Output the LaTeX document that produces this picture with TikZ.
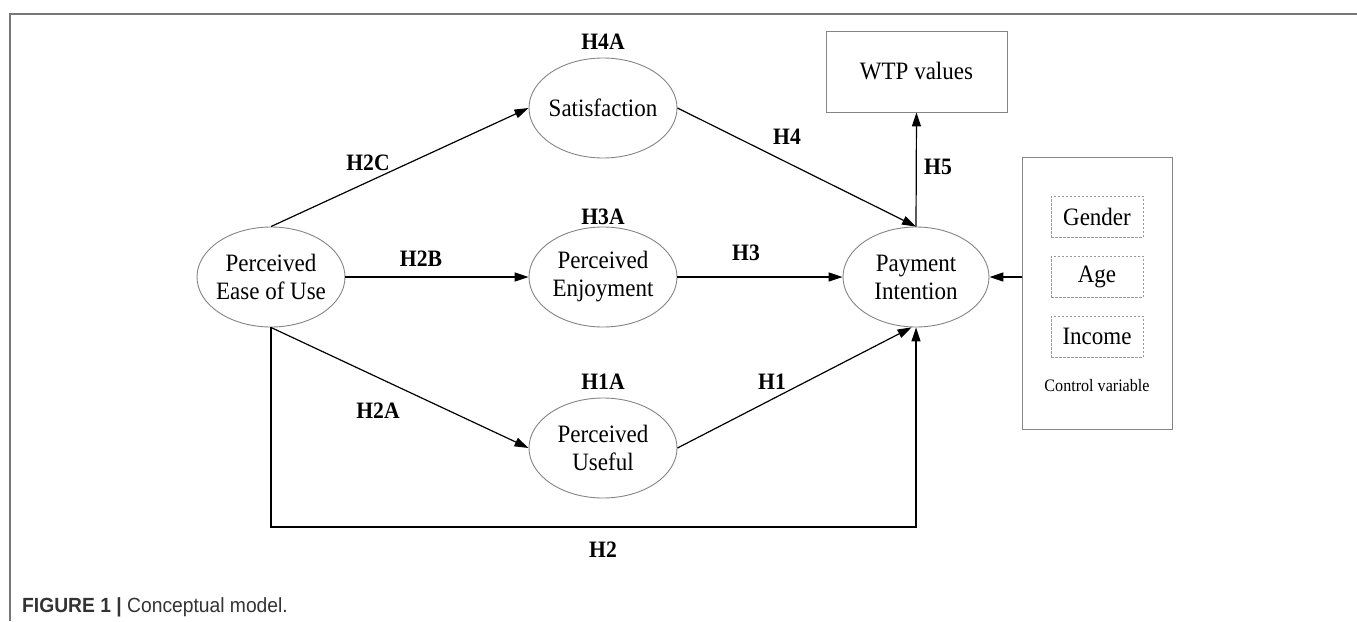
\documentclass[tikz,border=0pt]{standalone}
\usepackage{fontspec}
\setmainfont{Liberation Serif}[FakeStretch=0.92]
\newfontfamily\capfont{Liberation Sans}[FakeStretch=0.94]
\usetikzlibrary{arrows.meta,shapes.geometric}
\definecolor{framegray}{HTML}{777777}
\definecolor{shapegray}{HTML}{858585}
\definecolor{dashgray}{HTML}{9A9A9A}
\definecolor{captext}{HTML}{333333}
\begin{document}
\begin{tikzpicture}[x=1pt,y=-1pt,
  latent/.style={ellipse, draw=shapegray, line width=0.9pt, minimum width=148pt, minimum height=100pt,
    inner xsep=-6pt, inner ysep=0pt, align=center, font=\fontsize{25}{28}\selectfont},
  solidbox/.style={rectangle, draw=shapegray, line width=0.9pt, inner sep=0pt, align=center,
    font=\fontsize{25}{28}\selectfont},
  dashbox/.style={rectangle, draw=dashgray, dashed, dash pattern=on 2.5pt off 1.5pt, line width=0.8pt,
    minimum width=92pt, minimum height=41pt, inner sep=0pt, font=\fontsize{25}{28}\selectfont},
  hyp/.style={font=\bfseries\fontsize{23.5}{26}\selectfont, inner sep=0pt},
  link/.style={line width=1.2pt, -{Triangle[length=14pt,width=9pt]}},
  plain/.style={line width=1.2pt}
]
\useasboundingbox[fill=white] (0,0) rectangle (1357,621);
% outer frame
\draw[framegray, line width=1.4pt] (10,621) -- (10,14) -- (1357,14);

% latent constructs
\node[latent] (peou) at (271,277) {Perceived\\Ease of Use};
\node[latent] (sat)  at (603,108) {Satisfaction};
\node[latent] (enj)  at (603,277) {Perceived\\Enjoyment};
\node[latent] (use)  at (603,448) {Perceived\\Useful};
\node[latent, minimum width=146pt] (pi) at (916,277) {Payment\\Intention};

% boxes
\node[solidbox, minimum width=181pt, minimum height=81pt] (wtp) at (916.5,71.5) {WTP values};
\node[solidbox, minimum width=150pt, minimum height=272pt] (ctrl) at (1097,293) {};
\node[dashbox] (gender) at (1097,216.5) {Gender};
\node[dashbox] (age)    at (1097,276.5) {Age};
\node[dashbox] (income) at (1097,336.5) {Income};
\node[font=\fontsize{17.5}{19}\selectfont, inner sep=0pt] (ctrllab) at (1097,386) {Control variable};

% connectors
\draw[link] (peou.north) -- (sat.west);
\draw[link] (peou.east) -- (enj.west);
\draw[link] (peou.south) -- (use.west);
\draw[link] (sat.east) -- (pi.north);
\draw[link] (enj.east) -- (pi.west);
\draw[link] (use.east) -- (pi.265);
\coordinate (h2y) at (0,527);
\draw[link] (peou.south) -- (peou.south |- h2y) -| (pi.south);
\draw[link] (pi.north) -- (wtp.south);
\draw[link] (ctrl.west |- pi.east) -- (pi.east);

% hypothesis labels
\node[hyp] (l4a) at (603,42) {H4A};
\node[hyp] (l3a) at (603,217) {H3A};
\node[hyp] (l1a) at (603,382) {H1A};
\node[hyp] (l2c) at (368,163) {H2C};
\node[hyp] (l2b) at (421,259) {H2B};
\node[hyp] (l2a) at (378,411) {H2A};
\node[hyp] (l4)  at (787,137) {H4};
\node[hyp] (l3)  at (746,253) {H3};
\node[hyp] (l1)  at (772,382) {H1};
\node[hyp] (l5)  at (938,167) {H5};
\node[hyp] (l2)  at (603,550) {H2};

% caption
\node[anchor=west, inner sep=0pt, text=captext, font=\capfont\fontsize{20.5}{24}\selectfont] (cap) at (22,607)
  {\textbf{FIGURE 1 |} Conceptual model.};
\end{tikzpicture}
\end{document}
